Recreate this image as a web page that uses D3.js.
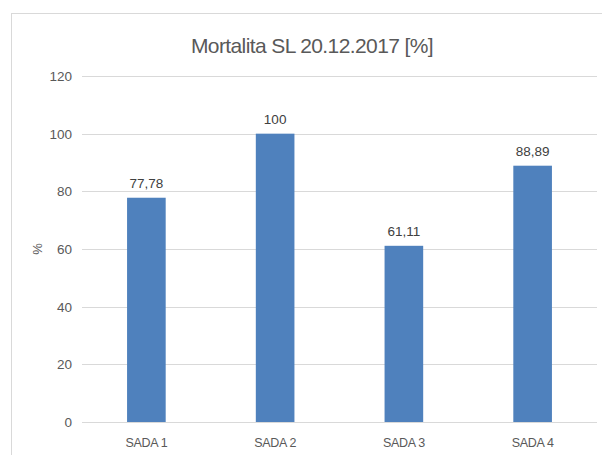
<!DOCTYPE html>
<html>
<head>
<meta charset="utf-8">
<script src="https://cdn.jsdelivr.net/npm/d3@7"></script>
<style>
  body { margin: 0; background: #fff; }
  svg { display: block; font-family: "Liberation Sans", Arial, sans-serif; }
</style>
</head>
<body>
<svg id="chart" width="602" height="455"></svg>
<script>
const categories = ["SADA 1", "SADA 2", "SADA 3", "SADA 4"];
const values = [77.78, 100, 61.11, 88.89];
const valueLabels = ["77,78", "100", "61,11", "88,89"];
const yTicks = [0, 20, 40, 60, 80, 100, 120];

const svg = d3.select("#chart");
const margin = { top: 76, right: 5, bottom: 33, left: 82 };
const width = 602, height = 455;

// chart frame
svg.append("rect")
  .attr("x", 11.5).attr("y", 13.5)
  .attr("width", 620).attr("height", 460)
  .attr("fill", "none").attr("stroke", "#d9d9d9");

svg.append("text")
  .attr("x", 312).attr("y", 53)
  .attr("text-anchor", "middle")
  .attr("font-size", 21)
  .attr("letter-spacing", -0.6)
  .attr("fill", "#595959")
  .text("Mortalita SL 20.12.2017 [%]");

const x = d3.scaleBand()
  .domain(categories)
  .range([margin.left, width - margin.right])
  .paddingInner(0.7).paddingOuter(0.35);

const y = d3.scaleLinear()
  .domain([0, 120])
  .range([height - margin.bottom, margin.top]);

// gridlines
svg.append("g")
  .selectAll("line")
  .data(yTicks)
  .join("line")
  .attr("x1", margin.left).attr("x2", width - margin.right)
  .attr("y1", d => Math.round(y(d)) + 0.5).attr("y2", d => Math.round(y(d)) + 0.5)
  .attr("stroke", "#d9d9d9");

// y tick labels
svg.append("g")
  .selectAll("text")
  .data(yTicks)
  .join("text")
  .attr("x", 72).attr("y", d => y(d) + 5)
  .attr("text-anchor", "end")
  .attr("font-size", 13.5)
  .attr("fill", "#595959")
  .text(d => d);

svg.append("text")
  .attr("transform", "translate(42," + y(60) + ") rotate(-90)")
  .attr("text-anchor", "middle")
  .attr("font-size", 13)
  .attr("fill", "#595959")
  .text("%");

// bars
svg.append("g")
  .selectAll("rect")
  .data(values)
  .join("rect")
  .attr("x", (d, i) => x(categories[i]))
  .attr("y", d => y(d))
  .attr("width", x.bandwidth())
  .attr("height", d => y(0) - y(d))
  .attr("fill", "#4f81bd");

// value labels
svg.append("g")
  .selectAll("text")
  .data(values)
  .join("text")
  .attr("x", (d, i) => x(categories[i]) + x.bandwidth() / 2)
  .attr("y", d => y(d) - 10)
  .attr("text-anchor", "middle")
  .attr("font-size", 13.5)
  .attr("fill", "#404040")
  .text((d, i) => valueLabels[i]);

// x labels
svg.append("g")
  .selectAll("text")
  .data(categories)
  .join("text")
  .attr("x", d => x(d) + x.bandwidth() / 2)
  .attr("y", 447)
  .attr("text-anchor", "middle")
  .attr("font-size", 12.5)
  .attr("letter-spacing", -0.3)
  .attr("fill", "#595959")
  .text(d => d);
</script>
</body>
</html>
